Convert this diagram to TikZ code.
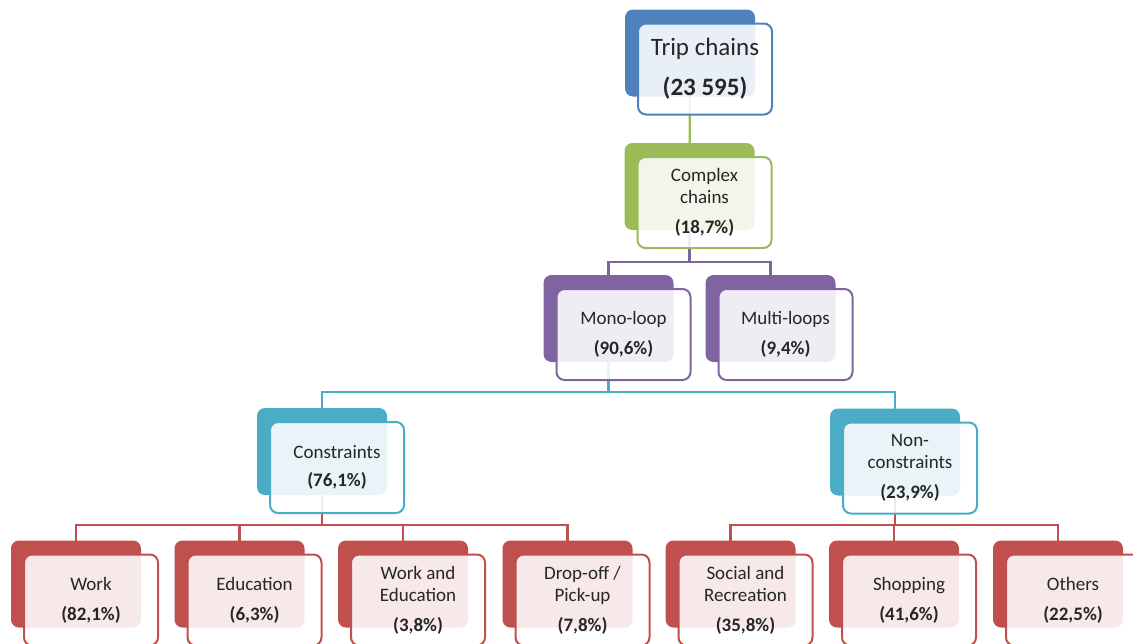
\documentclass[tikz,border=0pt]{standalone}
\usepackage{fontspec}
\setmainfont{Carlito}
\pgfdeclarelayer{bg}
\pgfsetlayers{bg,main}

\definecolor{cblue}{HTML}{4F81BD}
\definecolor{cgreen}{HTML}{9BBB59}
\definecolor{cpurple}{HTML}{8064A2}
\definecolor{ccyan}{HTML}{4BACC6}
\definecolor{cred}{HTML}{C0504D}
\definecolor{txt}{HTML}{262626}

\tikzset{
  backbox/.style={rounded corners=8pt, minimum width=130pt, minimum height=87pt, inner sep=0pt},
  frontbox/.style={draw, line width=2pt, rounded corners=8pt, fill=white, fill opacity=0.88,
    text opacity=1, minimum width=134pt, minimum height=91pt, inner sep=0pt, align=center,
    text=txt, font=\fontsize{19}{22}\selectfont},
  link/.style={line width=2.3pt},
}

% a category: solid back card plus an offset, lightly tinted front card holding the text
% #1 extra front style, #2 name, #3 colour, #4/#5 back card centre, #6 text
\newcommand\chainbox[6][]{%
  \node[backbox, fill=#3] (#2b) at (#4,#5) {};
  \node[frontbox, draw=#3, #1] (#2) at ([shift={(15,16)}]#2b.center) {#6};
}

\begin{document}
\begin{tikzpicture}[x=1pt, y=-1pt]
\useasboundingbox (0,0) rectangle (1133,643);
\clip (0,0) rectangle (1133,643);

% top levels
\chainbox[font=\fontsize{25}{28}\selectfont]{trip}{cblue}{690}{53}{Trip chains\\[12pt]\textbf{(23 595)}}
\chainbox{cplx}{cgreen}{689.5}{186.5}{Complex\\chains\\[8pt]\textbf{(18,7\%)}}
\chainbox{mono}{cpurple}{608.5}{318.5}{Mono-loop\\[8pt]\textbf{(90,6\%)}}
\chainbox{multi}{cpurple}{770.5}{318.5}{Multi-loops\\[8pt]\textbf{(9,4\%)}}
\chainbox{cons}{ccyan}{322}{451.5}{Constraints\\[6pt]\textbf{(76,1\%)}}
\chainbox{non}{ccyan}{895}{452}{Non-\\constraints\\[8pt]\textbf{(23,9\%)}}

% activity purposes
\chainbox{work}{cred}{76}{584}{Work\\[8pt]\textbf{(82,1\%)}}
\chainbox{edu}{cred}{239.5}{584}{Education\\[8pt]\textbf{(6,3\%)}}
\chainbox{wedu}{cred}{403}{584}{Work and\\Education\\[8pt]\textbf{(3,8\%)}}
\chainbox{drop}{cred}{567.5}{584}{Drop-off /\\Pick-up\\[8pt]\textbf{(7,8\%)}}
\chainbox{soc}{cred}{730.5}{584}{Social and\\Recreation\\[8pt]\textbf{(35,8\%)}}
\chainbox{shop}{cred}{894}{584}{Shopping\\[8pt]\textbf{(41,6\%)}}
\chainbox{oth}{cred}{1058}{584}{Others\\[8pt]\textbf{(22,5\%)}}

% bus heights of the elbow connectors
\coordinate (bus1) at (689.5,262);
\coordinate (bus2) at (608.5,392);
\coordinate (bus3l) at (322,525);
\coordinate (bus3r) at (895,525);

\begin{pgfonlayer}{bg}
  \draw[link, cgreen] (tripb.center) -- (cplxb.center);
  \draw[link, cpurple] (cplxb.center) -- (bus1);
  \draw[link, cpurple] (monob.center) |- (bus1) -| (multib.center);
  \draw[link, ccyan] (monob.center) -- (bus2);
  \draw[link, ccyan] (consb.center) |- (bus2) -| (nonb.center);
  \draw[link, cred] (consb.center) -- (bus3l);
  \draw[link, cred] (workb.center) |- (bus3l) -| (dropb.center);
  \draw[link, cred] (edub.center) -- (edub.center |- bus3l);
  \draw[link, cred] (wedub.center) -- (wedub.center |- bus3l);
  \draw[link, cred] (nonb.center) -- (bus3r);
  \draw[link, cred] (socb.center) |- (bus3r) -| (othb.center);
  \draw[link, cred] (shopb.center) -- (shopb.center |- bus3r);
\end{pgfonlayer}
\end{tikzpicture}
\end{document}
